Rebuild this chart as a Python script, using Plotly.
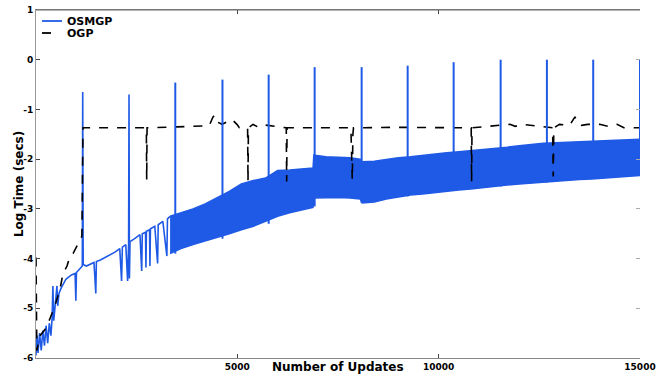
import plotly.graph_objects as go

# ---------------- data ----------------
# OSMGP: early part (before the dense band), with its downward blips and first spikes
osmgp_x = [0, 25, 50, 90, 130, 170, 210, 250, 290, 330, 370, 400, 420, 440, 470, 520, 540,
           570, 620, 680, 740, 800, 880, 970, 990, 1005, 1080, 1150, 1160, 1172, 1250, 1340,
           1440, 1485, 1500, 1600, 1720, 1840, 1960, 2080, 2125, 2145, 2230, 2275, 2300, 2310,
           2320, 2335, 2450, 2582, 2625, 2640, 2720, 2730, 2742, 2820, 2830, 2842, 2950, 3020,
           3035, 3150, 3250, 3265, 3330]
osmgp_y = [-5.95, -5.55, -5.9, -5.5, -5.85, -5.45, -5.75, -5.35, -5.7, -5.3, -5.55, -5.2, -4.55,
           -5.25, -5.0, -4.55, -4.95, -4.7, -4.6, -4.5, -4.42, -4.38, -4.33, -4.3, -4.85, -4.28,
           -4.22, -4.15, -0.65, -4.12, -4.15, -4.12, -4.08, -4.7, -4.06, -4.03, -3.98, -3.93,
           -3.87, -3.8, -4.45, -3.77, -3.72, -4.45, -3.7, -0.7, -4.4, -3.66, -3.6, -3.52, -4.25,
           -3.5, -3.47, -4.18, -3.45, -3.42, -4.15, -3.4, -3.35, -4.1, -3.32, -3.25, -3.95,
           -3.2, -3.15]

# OSMGP: dense oscillation band (upper / lower envelope)
band_x = [3330, 3600, 3900, 4200, 4500, 4800, 5100, 5400, 5700, 6000, 6300, 6600, 6880, 6900,
          7200, 7500, 7800, 8050, 8100, 8400, 8700, 9000, 9300, 9600, 9900, 10200, 10500, 10800,
          11100, 11400, 11700, 12000, 12300, 12600, 12900, 13200, 13500, 13800, 14100, 14400,
          14700, 15000]
band_upper = [-3.15, -3.08, -3.0, -2.9, -2.78, -2.65, -2.5, -2.43, -2.38, -2.23, -2.22, -2.2,
              -2.18, -1.92, -1.95, -1.96, -1.97, -2.0, -2.05, -2.04, -2.0, -1.97, -1.95, -1.92,
              -1.9, -1.87, -1.85, -1.83, -1.8, -1.78, -1.76, -1.73, -1.7, -1.68, -1.67, -1.66,
              -1.65, -1.64, -1.63, -1.62, -1.61, -1.6]
band_lower = [-3.9, -3.8, -3.72, -3.65, -3.58, -3.5, -3.42, -3.35, -3.25, -3.15, -3.08, -3.02,
              -2.97, -2.78, -2.77, -2.77, -2.78, -2.8, -2.88, -2.86, -2.8, -2.76, -2.72, -2.7,
              -2.67, -2.64, -2.62, -2.6, -2.57, -2.54, -2.52, -2.5, -2.48, -2.46, -2.45, -2.43,
              -2.41, -2.4, -2.38, -2.36, -2.35, -2.33]

# OSMGP: periodic spikes inside the band
spike_x = [3459, 4631, 5778, 6920, 8087, 9230, 10372, 11539, 12688, 13838, 15000]
spike_top = [-0.46, -0.4, -0.3, -0.15, -0.15, -0.12, -0.05, 0.0, 0.0, 0.0, 0.0]
spike_base = [-3.9, -3.6, -3.3, -2.95, -2.88, -2.75, -2.62, -2.55, -2.47, -2.38, -2.32]

# OGP
ogp_x = [0, 20, 100, 250, 350, 470, 600, 670, 770, 845, 920, 1045, 1140, 1167, 1200, 2000,
         2740, 2749, 2758, 3500, 4300, 4395, 4445, 4495, 4620, 4743, 4817, 4890, 4990, 5050,
         5255, 5265, 5275, 5390, 5480, 5560, 6215, 6225, 6235, 7820, 7835, 7845, 7855, 7870,
         7885, 9000, 10808, 10818, 10828, 11770, 11900, 12090, 12830, 12845, 12860, 13000,
         13250, 13385, 13450, 13550, 13700, 14000, 14200, 14430, 14600, 15000]
ogp_y = [-3.98, -5.85, -5.55, -5.4, -5.2, -4.95, -4.6, -4.3, -4.15, -3.95, -3.9, -3.7, -3.55,
         -1.37, -1.37, -1.36, -1.37, -2.42, -1.37, -1.35, -1.33, -1.15, -1.12, -1.25, -1.3,
         -1.25, -1.2, -1.22, -1.3, -1.37, -1.37, -2.45, -1.37, -1.3, -1.34, -1.3, -1.37, -2.45,
         -1.37, -1.37, -1.9, -1.6, -2.42, -1.5, -1.37, -1.36, -1.37, -2.45, -1.37, -1.3, -1.34,
         -1.3, -1.37, -2.35, -1.37, -1.3, -1.32, -1.15, -1.27, -1.32, -1.3, -1.3, -1.34, -1.3,
         -1.37, -1.37]

x_tickvals = [5000, 10000, 15000]
x_ticktext = ["5000", "10000", "15000"]
y_tickvals = [-6, -5, -4, -3, -2, -1, 0, 1]
y_ticktext = ["-6", "-5", "-4", "-3", "-2", "-1", "0", "1"]
legend_names = ["OSMGP", "OGP"]

# ---------------- figure ----------------
BLUE = "#1f5ae6"
L, R, T, B = 36, 24, 10, 17
W, H = 664, 375
PW, PH = W - L - R, H - T - B

fig = go.Figure()

fig.add_trace(go.Scatter(x=band_x, y=band_lower, mode="lines",
                         line=dict(color=BLUE, width=1.5), showlegend=False, hoverinfo="skip"))
fig.add_trace(go.Scatter(x=band_x, y=band_upper, mode="lines", fill="tonexty",
                         fillcolor=BLUE, line=dict(color=BLUE, width=1.5),
                         showlegend=False, hoverinfo="skip"))

sx, sy = [], []
for x, t, b in zip(spike_x, spike_top, spike_base):
    sx += [x, x, None]
    sy += [b, t, None]
fig.add_trace(go.Scatter(x=sx, y=sy, mode="lines", line=dict(color=BLUE, width=2),
                         showlegend=False, hoverinfo="skip", yaxis="y2"))

fig.add_trace(go.Scatter(x=osmgp_x, y=osmgp_y, mode="lines", name=legend_names[0],
                         line=dict(color=BLUE, width=1.6), showlegend=False))
fig.add_trace(go.Scatter(x=ogp_x, y=ogp_y, mode="lines", name=legend_names[1],
                         line=dict(color="black", width=1.6, dash="dash"), showlegend=False))

tickfont = dict(family="DejaVu Sans", size=9, color="black", weight="bold")


def px2paper(px, py):
    return (px - L) / PW, (H - B - py) / PH


# hand-placed legend (matches the reference's compact layout)
shapes, annots = [], []
legend_rows = [(21, BLUE, "solid", 62), (33, "black", "dash", 60)]
for (py, col, dsh, x1), name in zip(legend_rows, legend_names):
    xa, ya = px2paper(42, py)
    xb, _ = px2paper(x1, py)
    shapes.append(dict(type="line", xref="paper", yref="paper", x0=xa, x1=xb, y0=ya, y1=ya,
                       line=dict(color=col, width=1.8, dash=dsh)))
    xt, _ = px2paper(65, py)
    annots.append(dict(text=name, xref="paper", yref="paper", x=xt, y=ya, xanchor="left",
                       yanchor="middle", showarrow=False,
                       font=dict(size=11, weight="bold", color="black")))

# top frame line
shapes.append(dict(type="line", xref="paper", yref="paper", x0=0, x1=1, y0=1, y1=1,
                   line=dict(color="#666", width=1)))

_, xtitle_y = px2paper(0, 367)
annots += [
    dict(text="Number of Updates", xref="paper", yref="paper", x=0.5, y=xtitle_y,
         xanchor="center", yanchor="middle", showarrow=False,
         font=dict(size=12, weight="bold")),
    dict(text="Log Time (secs)", xref="paper", yref="paper", x=-0.028, y=0.5,
         xanchor="center", yanchor="middle", textangle=-90, showarrow=False,
         font=dict(size=12, weight="bold")),
]

fig.update_layout(
    width=W, height=H,
    margin=dict(l=L, r=R, t=T, b=B, autoexpand=False),
    paper_bgcolor="white", plot_bgcolor="white",
    font=dict(family="DejaVu Sans", color="black"),
    showlegend=False,
    xaxis=dict(range=[0, 15000], tickvals=x_tickvals, ticktext=x_ticktext, ticks="inside",
               ticklen=4, showline=True, linecolor="#888", linewidth=1, mirror="ticks",
               showgrid=False, zeroline=False, tickfont=tickfont, automargin=False),
    yaxis=dict(range=[-6, 1], tickvals=y_tickvals, ticktext=y_ticktext, ticks="inside",
               ticklen=4, showline=True, linecolor="#999", linewidth=1, mirror=False,
               showgrid=False, zeroline=False, tickfont=tickfont, automargin=False),
    yaxis2=dict(range=[-6, 1], tickvals=y_tickvals, overlaying="y", side="right",
                ticks="inside", ticklen=4, tickcolor="#aaa", showline=False,
                showticklabels=False, showgrid=False, zeroline=False, automargin=False),
    shapes=shapes,
    annotations=annots,
)

fig.write_html("out.html", config={"displayModeBar": False},
               post_script="document.body.style.margin='0';document.body.style.padding='0';")
